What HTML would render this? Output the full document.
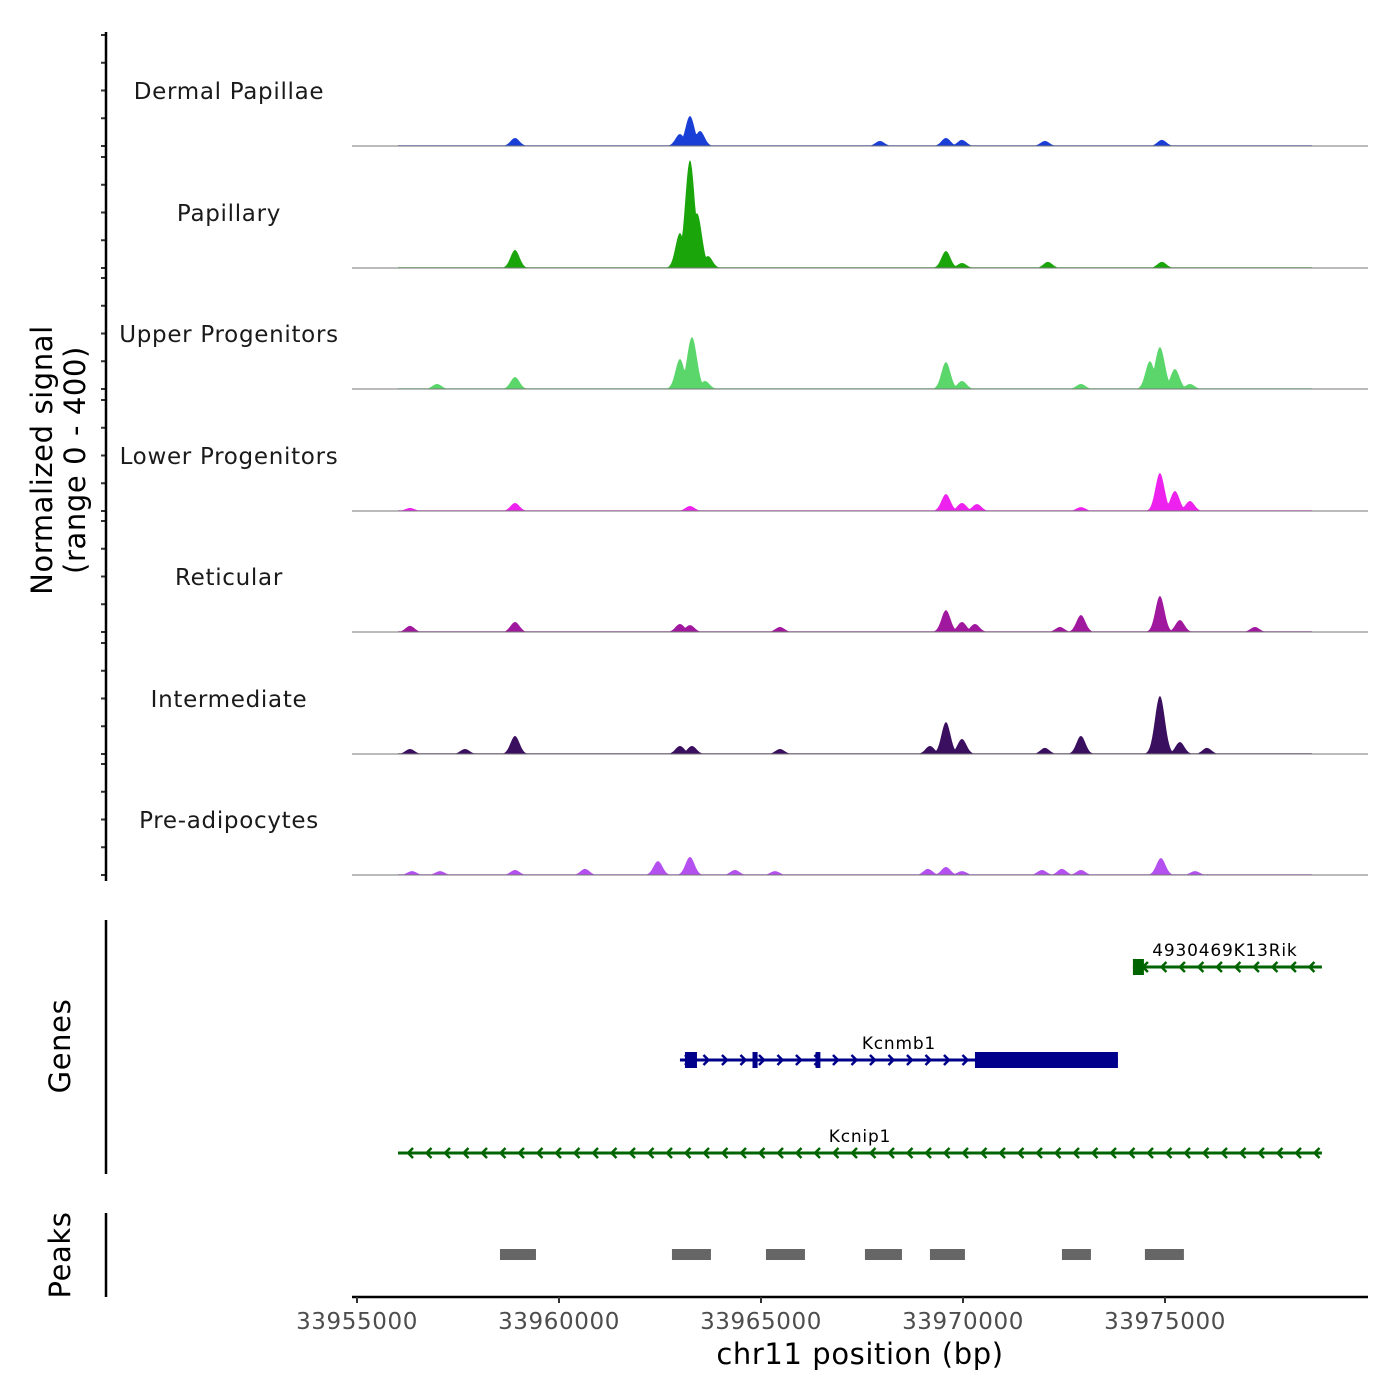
<!DOCTYPE html>
<html><head><meta charset="utf-8"><style>
html,body{margin:0;padding:0;background:#fff;}
svg{display:block;font-family:"DejaVu Sans","Liberation Sans",sans-serif;}
</style></head><body>
<svg id="chart" width="1400" height="1400" viewBox="0 0 1400 1400">
<g id="tracks"></g>
<g id="axes"></g>
<g id="genes"></g>
<g id="peaks"></g>
</svg>
<script>
const trackNames = ["Dermal Papillae","Papillary","Upper Progenitors","Lower Progenitors","Reticular","Intermediate","Pre-adipocytes"];
const trackColors = ["#1a3fd6","#1aa50a","#5ad66a","#ee22ee","#a0189e","#3b0f5f","#b44ff0"];
// peak positions (bp) and heights (normalized signal 0-400) per track
const dpPos = [33958911,33962994,33963242,33963490,33967944,33969578,33969974,33972028,33974924];
const dpVal = [29,43,108,54,18,29,22,18,22];
const papPos = [33958911,33962994,33963242,33963415,33963687,33969578,33969974,33972102,33974924];
const papVal = [65,126,389,198,43,61,18,22,22];
const upPos = [33956980,33958911,33962994,33963291,33963613,33969578,33969974,33972919,33974627,33974874,33975246,33975617];
const upVal = [18,43,108,187,29,97,29,18,100,151,72,18];
const lowPos = [33956312,33958911,33963242,33969578,33969974,33970345,33972919,33974874,33975246,33975617];
const lowVal = [11,29,18,61,29,25,14,137,72,36];
const retPos = [33956312,33958911,33962994,33963242,33965469,33969578,33969974,33970296,33972399,33972919,33974874,33975369,33977226];
const retVal = [22,36,29,25,18,79,36,29,18,61,130,43,18];
const intPos = [33956312,33957673,33958911,33962994,33963291,33965469,33969182,33969578,33969974,33972028,33972919,33974874,33975369,33976038];
const intVal = [18,18,65,29,29,18,29,115,54,22,65,209,43,22];
const prePos = [33956361,33957054,33958911,33960643,33962450,33963242,33964356,33965346,33969132,33969578,33969974,33971954,33972449,33972919,33974899,33975741];
const preVal = [14,14,18,22,50,65,18,14,22,29,14,18,22,18,61,14];
const allPos = [dpPos,papPos,upPos,lowPos,retPos,intPos,prePos];
const allVal = [dpVal,papVal,upVal,lowVal,retVal,intVal,preVal];
const xTicks = [33955000,33960000,33965000,33970000,33975000];
const geneNames = ["4930469K13Rik","Kcnmb1","Kcnip1"];
const geneStart = [33974206,33962994,33956015];
const geneEnd = [33978884,33973835,33978884];
const geneStrand = [-1,1,-1];
const geneColors = ["#006400","#00008b","#006400"];
const exonGene = [0,1,1,1,1];
const exonStart = [33974206,33963118,33964790,33966350,33970296];
const exonEnd = [33974478,33963415,33964915,33966470,33973835];
const peakStart = [33958539,33962796,33965123,33967573,33969182,33972449,33974503];
const peakEnd = [33959430,33963761,33966088,33968489,33970048,33973167,33975468];

const NS="http://www.w3.org/2000/svg";
function mk(tag,attrs,parent){const e=document.createElementNS(NS,tag);for(const k in attrs)e.setAttribute(k,attrs[k]);parent.appendChild(e);return e;}
const X0=33955000, PX0=357, SC=0.0404;
function xs(bp){return PX0+(bp-X0)*SC;}
const baselines=[146,268,389,511,632,754,875];
const yScale=111/400;
const plotL=352, plotR=1368, dataL=398, dataR=1312;

const tracks=document.getElementById('tracks');
for(let t=0;t<7;t++){
  const b=baselines[t];
  const g=mk('g',{},tracks);
  
  
  let pts=[dataL+','+b];
  for(let x=dataL;x<=dataR;x+=1){
    let v=3;
    for(let i=0;i<allPos[t].length;i++){
      const cx=xs(allPos[t][i]);
      const hw=(allVal[t][i]>150?6:5.5);
      const d=Math.abs(x-cx);
      if(d<hw*2.5){v=Math.max(v,allVal[t][i]*Math.exp(-(d*d)/(2*hw*hw/1.5)));}
    }
    pts.push(x+','+(b-v*yScale).toFixed(1));
  }
  pts.push(dataR+','+b);
  const p=mk('polygon',{points:pts.join(' '),fill:trackColors[t]},g);
  
  
  const bl=mk('line',{x1:plotL,x2:plotR,y1:b,y2:b,stroke:'#777','stroke-width':1},g);
  
  
  const lab=mk('text',{x:229,y:b-47,'text-anchor':'middle','font-size':23,fill:'#1a1a1a','letter-spacing':'0.7'},g);
  lab.textContent=trackNames[t];
  
  
  for(let k=0;k<=4;k++){
    const ty=b-k*100*yScale;
    const tk=mk('line',{x1:101,x2:106,y1:ty,y2:ty,stroke:'#333','stroke-width':2},g);
    
    
  }
}

const axes=document.getElementById('axes');
function line(a,name){const l=mk('line',a,axes);return l;}
function text(a,s,name,par){const e=mk('text',a,par||axes);e.textContent=s;return e;}
line({x1:106,x2:106,y1:32,y2:881,stroke:'#000','stroke-width':2.5},'signal-y-axis');
line({x1:106,x2:106,y1:920,y2:1174,stroke:'#000','stroke-width':2.5},'genes-y-axis');
line({x1:106,x2:106,y1:1213,y2:1297,stroke:'#000','stroke-width':2.5},'peaks-y-axis');
line({x1:plotL,x2:plotR,y1:1297,y2:1297,stroke:'#000','stroke-width':2.5},'x-axis');
const yt=text({x:0,y:0,'text-anchor':'middle','font-size':29,fill:'#000','letter-spacing':'0.6',transform:'translate(52,460) rotate(-90)'},'','y-axis-title');
const t1=mk('tspan',{x:0,dy:0},yt);t1.textContent='Normalized signal';
const t2=mk('tspan',{x:0,dy:33},yt);t2.textContent='(range 0 - 400)';
text({x:0,y:0,'text-anchor':'middle','font-size':29,fill:'#000','letter-spacing':'0.6',transform:'translate(70,1046) rotate(-90)'},'Genes','genes-axis-title');
text({x:0,y:0,'text-anchor':'middle','font-size':29,fill:'#000','letter-spacing':'0.6',transform:'translate(70,1255) rotate(-90)'},'Peaks','peaks-axis-title');
for(const v of xTicks){
  const x=xs(v);
  line({x1:x,x2:x,y1:1297,y2:1303,stroke:'#333','stroke-width':2},'x-tick');
  text({x:x,y:1329,'text-anchor':'middle','font-size':23,fill:'#4d4d4d','letter-spacing':'0.6'},String(v),'x-tick-label');
}
text({x:860,y:1364,'text-anchor':'middle','font-size':29,fill:'#000','letter-spacing':'0.6'},'chr11 position (bp)','x-axis-title');

const genes=document.getElementById('genes');
const geneY=[967,1060,1153];
for(let i=0;i<geneNames.length;i++){
  const g=mk('g',{},genes);
  
  
  const y=geneY[i],x1=xs(geneStart[i]),x2=xs(geneEnd[i]),c=geneColors[i];
  mk('line',{x1:x1,x2:x2,y1:y,y2:y,stroke:c,'stroke-width':3},g);
  for(let x=x1+10;x<x2-4;x+=18.5){
    const d=geneStrand[i]*5;
    mk('polyline',{points:(x-d)+','+(y-5)+' '+x+','+y+' '+(x-d)+','+(y+5),fill:'none',stroke:c,'stroke-width':2.5},g);
  }
  const lb=mk('text',{x:(i==0?x1+92:(x1+x2)/2),y:y-11,'text-anchor':'middle','font-size':17,fill:'#000','letter-spacing':'0.8'},g);
  lb.textContent=geneNames[i];
  
  
}
for(let j=0;j<exonStart.length;j++){
  const gi=exonGene[j],y=geneY[gi];
  const r=mk('rect',{x:xs(exonStart[j]),y:y-8,width:Math.max(4,xs(exonEnd[j])-xs(exonStart[j])),height:16,fill:geneColors[gi]},genes);
  
  
}
const peaks=document.getElementById('peaks');
for(let j=0;j<peakStart.length;j++){
  const r=mk('rect',{x:xs(peakStart[j]),y:1249,width:xs(peakEnd[j])-xs(peakStart[j]),height:11,fill:'#666'},peaks);
  
  
}
</script>
</body></html>
